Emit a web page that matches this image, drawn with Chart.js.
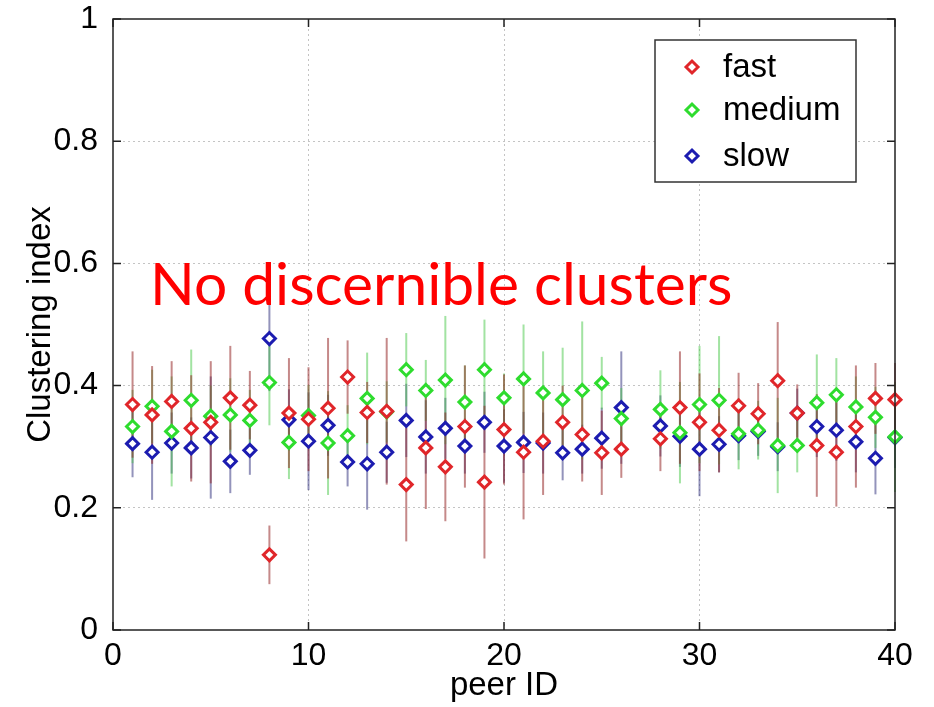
<!DOCTYPE html>
<html>
<head>
<meta charset="utf-8">
<script src="https://cdn.jsdelivr.net/npm/chart.js@4.4.0/dist/chart.umd.min.js"></script>
<style>
  html, body { margin: 0; padding: 0; background: #fff; }
  #wrap { width: 934px; height: 707px; }
</style>
</head>
<body>
<div id="wrap"><canvas id="clusterChart" width="934" height="707"></canvas></div>
<script>
'use strict';

// peer IDs (27 has no measurement)
var peers = [1,2,3,4,5,6,7,8,9,10,11,12,13,14,15,16,17,18,19,20,21,22,23,24,25,26,27,28,29,30,31,32,33,34,35,36,37,38,39,40];

var fast = [.369,.352,.374,.330,.340,.380,.368,.123,.355,.345,
            .363,.414,.356,.358,.238,.298,.267,.333,.242,.328,
            .291,.309,.340,.320,.290,.296,null,.313,.364,.340,
            .327,.367,.354,.408,.355,.302,.291,.333,.379,.377];
var medium = [.333,.366,.325,.376,.350,.352,.343,.405,.307,.351,
              .306,.318,.379,.357,.426,.392,.409,.373,.426,.380,
              .411,.388,.377,.392,.404,.346,null,.361,.323,.369,
              .376,.321,.327,.302,.302,.372,.385,.365,.348,.316];
var slow = [.305,.291,.306,.298,.315,.276,.294,.477,.344,.309,
            .335,.275,.272,.291,.343,.316,.330,.301,.340,.301,
            .307,.306,.290,.296,.314,.364,null,.334,.317,.296,
            .304,.318,.325,.300,.355,.333,.327,.308,.281,.315];

// half length of each error bar
var fastErr = [.087,.080,.066,.087,.100,.085,.056,.048,.090,.085,
               .115,.060,.050,.120,.093,.100,.089,.100,.125,.090,
               .110,.088,.060,.077,.069,.047,null,.053,.092,.080,
               .069,.054,.050,.096,.047,.084,.089,.100,.058,.060];
var mediumErr = [.060,.060,.090,.083,.050,.060,.050,.070,.060,.050,
                 .085,.050,.075,.050,.060,.050,.105,.060,.082,.040,
                 .089,.068,.085,.113,.043,.050,null,.064,.083,.096,
                 .105,.058,.048,.078,.044,.079,.060,.050,.050,.090];
var slowErr = [.055,.078,.050,.050,.100,.052,.040,.086,.050,.080,
               .050,.040,.075,.050,.060,.060,.050,.045,.050,.060,
               .050,.050,.045,.040,.050,.092,null,.050,.050,.077,
               .046,.040,.040,.040,.040,.050,.050,.050,.059,.050];

var xTicks = [0, 10, 20, 30, 40];
var yTicks = [0, 0.2, 0.4, 0.6, 0.8, 1];
var note = 'No discernible clusters';

var FONT = "'Liberation Sans', Arial, Helvetica, sans-serif";

function points(vals) {
  return peers.map(function(p, i) { return { x: p, y: vals[i] }; });
}

function makeSet(label, vals, errs, color, errColor) {
  return {
    label: label,
    data: points(vals),
    errors: errs,
    errorColor: errColor,
    showLine: false,
    pointStyle: 'rectRot',
    pointRadius: 6,
    pointHoverRadius: 6,
    pointBorderWidth: 3,
    borderColor: color,
    backgroundColor: '#fff',
    clip: false
  };
}

var errorBars = {
  id: 'errorBars',
  beforeDatasetsDraw: function(chart) {
    var ctx = chart.ctx, xs = chart.scales.x, ys = chart.scales.y;
    ctx.save();
    ctx.lineWidth = 2;
    chart.data.datasets.slice().reverse().forEach(function(ds) {
      ctx.strokeStyle = ds.errorColor;
      ds.data.forEach(function(pt, i) {
        var e = ds.errors[i];
        if (pt.y === null || e === null) return;
        var px = xs.getPixelForValue(pt.x);
        ctx.beginPath();
        ctx.moveTo(px, ys.getPixelForValue(pt.y - e));
        ctx.lineTo(px, ys.getPixelForValue(pt.y + e));
        ctx.stroke();
      });
    });
    ctx.restore();
  }
};

var axesBox = {
  id: 'axesBox',
  afterDatasetsDraw: function(chart) {
    var ctx = chart.ctx, a = chart.chartArea, xs = chart.scales.x, ys = chart.scales.y;
    ctx.save();
    ctx.strokeStyle = '#222';
    ctx.lineWidth = 1.5;
    ctx.strokeRect(a.left, a.top, a.right - a.left, a.bottom - a.top);
    ctx.beginPath();
    xTicks.forEach(function(v) {
      var px = xs.getPixelForValue(v);
      ctx.moveTo(px, a.bottom); ctx.lineTo(px, a.bottom - 8);
      ctx.moveTo(px, a.top); ctx.lineTo(px, a.top + 8);
    });
    yTicks.forEach(function(v) {
      var py = ys.getPixelForValue(v);
      ctx.moveTo(a.left, py); ctx.lineTo(a.left + 8, py);
      ctx.moveTo(a.right, py); ctx.lineTo(a.right - 8, py);
    });
    ctx.stroke();
    ctx.restore();
  }
};

var boxLegend = {
  id: 'boxLegend',
  afterDraw: function(chart) {
    var ctx = chart.ctx, a = chart.chartArea;
    var left = a.right - 240, top = a.top + 21, w = 201, h = 142;
    var rows = [27, 70, 116];
    ctx.save();
    ctx.fillStyle = '#fff';
    ctx.fillRect(left, top, w, h);
    ctx.strokeStyle = '#333';
    ctx.lineWidth = 1.5;
    ctx.strokeRect(left, top, w, h);
    ctx.font = '33px ' + FONT;
    ctx.textBaseline = 'middle';
    chart.data.datasets.forEach(function(ds, i) {
      var y = top + rows[i];
      ctx.strokeStyle = ds.borderColor;
      ctx.fillStyle = '#fff';
      ctx.lineWidth = ds.pointBorderWidth;
      Chart.helpers.drawPoint(ctx, { pointStyle: 'rectRot', radius: 6, rotation: 0, borderWidth: ds.pointBorderWidth }, left + 37, y);
      ctx.fillStyle = '#000';
      ctx.fillText(ds.label, left + 68, y + 1);
    });
    ctx.restore();
  }
};

var noteText = {
  id: 'noteText',
  afterDraw: function(chart) {
    var ctx = chart.ctx;
    ctx.save();
    ctx.font = '100px Lato, sans-serif';
    var size = 100 * 583 / ctx.measureText(note).width;
    ctx.font = size.toFixed(1) + 'px Lato, sans-serif';
    ctx.fillStyle = '#ff0000';
    ctx.textBaseline = 'alphabetic';
    ctx.fillText(note, 150, 305);
    ctx.restore();
  }
};

function gridColor(edges) {
  return function(c) {
    if (c.tick && edges.indexOf(c.tick.value) !== -1) return 'rgba(0,0,0,0)';
    return '#c4c4c4';
  };
}

function draw() {
  var ctx = document.getElementById('clusterChart').getContext('2d');
  new Chart(ctx, {
    type: 'scatter',
    data: {
      datasets: [
        makeSet('fast', fast, fastErr, '#e0262a', 'rgba(150,40,40,0.55)'),
        makeSet('medium', medium, mediumErr, '#2edc2e', 'rgba(70,200,70,0.5)'),
        makeSet('slow', slow, slowErr, '#1c1cb0', 'rgba(40,40,120,0.5)')
      ]
    },
    options: {
      responsive: false,
      animation: false,
      layout: { padding: { top: 19, right: 39, left: 0, bottom: 0 } },
      plugins: { legend: { display: false }, tooltip: { enabled: false } },
      scales: {
        x: {
          type: 'linear', min: 0, max: 40,
          afterBuildTicks: function(s) { s.ticks = xTicks.map(function(v) { return { value: v }; }); },
          ticks: { font: { size: 32, family: FONT }, color: '#000', padding: 7, maxRotation: 0 },
          grid: { color: gridColor([0, 40]), drawTicks: false, lineWidth: 1 },
          border: { display: false, dash: [2, 3] },
          title: { display: true, text: 'peer ID', color: '#000', font: { size: 33, family: FONT }, padding: { top: 0, bottom: 1 } },
          afterFit: function(s) { s.height = 77; s.paddingLeft = 0; s.paddingRight = 0; }
        },
        y: {
          type: 'linear', min: 0, max: 1,
          afterBuildTicks: function(s) { s.ticks = yTicks.map(function(v) { return { value: v }; }); },
          ticks: {
            font: { size: 32, family: FONT }, color: '#000', padding: 15,
            callback: function(v) { return String(Math.round(v * 10) / 10); }
          },
          grid: { color: gridColor([0, 1]), drawTicks: false, lineWidth: 1 },
          border: { display: false, dash: [2, 3] },
          title: { display: true, text: 'Clustering index', color: '#000', font: { size: 33, family: FONT }, padding: { top: 21, bottom: 0 } },
          afterFit: function(s) { s.width = 113; s.paddingTop = 0; s.paddingBottom = 0; }
        }
      }
    },
    plugins: [errorBars, axesBox, boxLegend, noteText]
  });
}

if (document.fonts && document.fonts.load) {
  document.fonts.load('50px Lato').then(draw, draw);
} else {
  draw();
}
</script>
</body>
</html>
